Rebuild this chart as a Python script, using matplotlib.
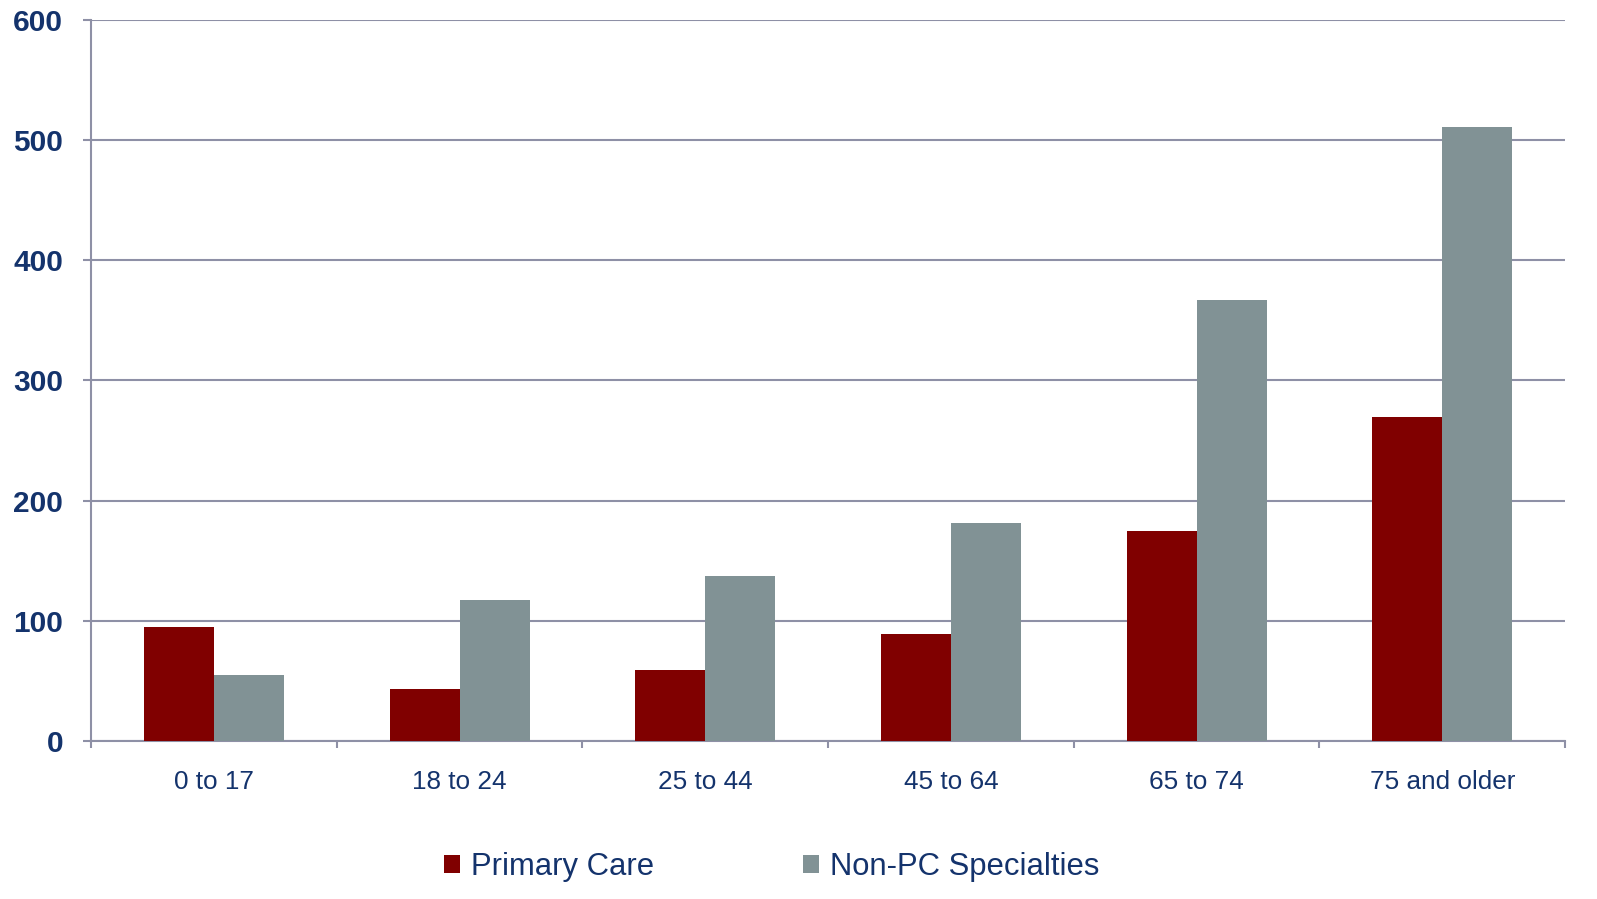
import matplotlib.pyplot as plt
import numpy as np

plt.rcParams['font.family'] = ['Liberation Sans', 'DejaVu Sans']

categories = ['0 to 17', '18 to 24', '25 to 44', '45 to 64', '65 to 74', '75 and older']
primary_care = [95, 43, 59, 89, 175, 270]
non_pc = [55, 117, 137, 181, 367, 511]

navy = '#14336C'
grid_col = '#8E90A6'

fig = plt.figure(figsize=(15.97, 8.99), dpi=100)
ax = fig.add_axes([0.057, 0.1758, 0.923, 0.802])

x = np.arange(len(categories))
w = 0.285
ax.bar(x - w / 2, primary_care, w, color='#800000', label='Primary Care', zorder=3)
ax.bar(x + w / 2, non_pc, w, color='#819295', label='Non-PC Specialties', zorder=3)

ax.set_xlim(-0.5, len(categories) - 0.5)
ax.set_ylim(0, 600)
ax.set_yticks(range(0, 601, 100))
ax.yaxis.grid(True, color=grid_col, linewidth=1.5, zorder=0)

for s in ['top', 'right']:
    ax.spines[s].set_visible(False)
ax.spines['left'].set_color(grid_col)
ax.spines['bottom'].set_color(grid_col)
ax.spines['left'].set_linewidth(1.5)
ax.spines['bottom'].set_linewidth(1.5)

# category labels at centers, ticks at boundaries
ax.set_xticks(x)
ax.set_xticklabels(categories, fontsize=18.8, color=navy)
ax.tick_params(axis='x', length=0, pad=21)
ax.set_xticks(np.arange(len(categories) + 1) - 0.5, minor=True)
ax.tick_params(axis='x', which='minor', length=5, width=1.5, color=grid_col)
ax.tick_params(axis='y', length=6, width=1.5, color=grid_col, labelsize=21.5,
               labelcolor=navy, pad=14)
for lbl in ax.get_yticklabels():
    lbl.set_fontweight('bold')

fig.legend(loc='center', bbox_to_anchor=(0.483, 0.036), ncol=2, frameon=False,
           fontsize=22.3, labelcolor=navy, handlelength=0.52, handleheight=0.52,
           handletextpad=0.35, columnspacing=4.8)

plt.savefig('out.png')
